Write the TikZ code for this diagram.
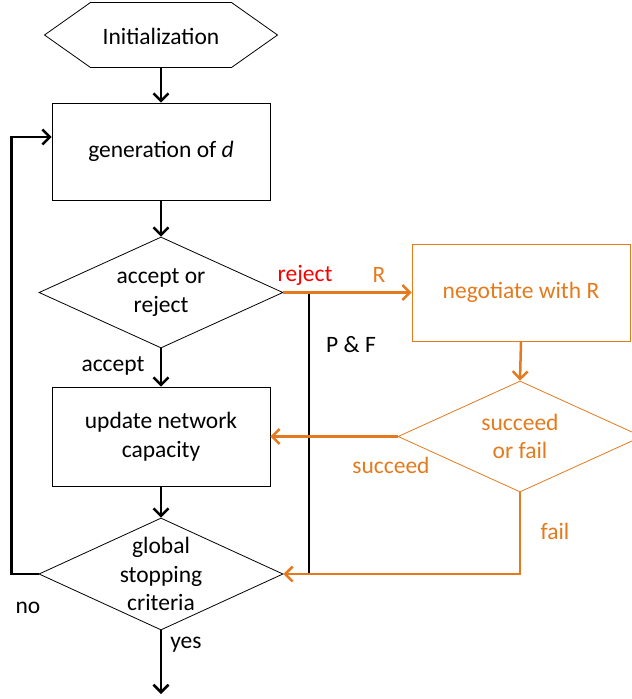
\documentclass[tikz,border=0pt]{standalone}
\usepackage{fontspec}
\setmainfont{Carlito}
\usetikzlibrary{shapes.geometric, arrows.meta, positioning}
\definecolor{negorange}{RGB}{228,122,30}
\definecolor{rejred}{RGB}{250,0,0}

\begin{document}
\begin{tikzpicture}[x=1pt, y=-1pt, font=\fontsize{23.5}{28.5}\selectfont]
  \newcommand\colx{161}
  \newcommand\thinw{0.8pt}
  \newcommand\flowlw{2.5pt}

  \tikzset{stepbox/.style={draw, line width=\thinw, minimum width=218pt, minimum height=97pt, inner sep=0pt, align=center}}
  \tikzset{choice/.style={draw, diamond, line width=\thinw, minimum width=244pt, minimum height=111pt, inner sep=0pt, aspect=2.2, align=center}}
  \tikzset{flow/.style={-{Straight Barb[length=7.5pt, width=15pt]}, line width=\flowlw}}
  \tikzset{negstyle/.style={draw=negorange, text=negorange}}

  \useasboundingbox (0,0) rectangle (632,699);
  \clip (0,0) rectangle (632,699);

  % main column
  \node (init) at (\colx,36) {Initialization};
  \draw[line width=\thinw] (\colx,35) ++(-116.5,0) -- ++(46,-32.5) -- ++(141,0) -- ++(46,32.5)
    -- ++(-46,32.5) -- ++(-141,0) -- cycle;
  \coordinate (initbot) at (\colx,67.5);
  \node[stepbox] at (\colx,151.5) (gen) {generation of \textit{d}};
  \node[choice] at (\colx,292.5) (accept) {accept or\\reject};
  \node[stepbox, minimum height=99pt] at (\colx,436.5) (update) {update network\\capacity};
  \node[choice, minimum width=242pt, minimum height=112pt] at (\colx,574) (global) {global\\stopping\\criteria};
  \coordinate (stop) at (\colx,694);

  % negotiation branch
  \node[stepbox, negstyle] at (521,292.5) (neg) {negotiate with R};
  \node[choice, negstyle] at (520,436.5) (sf) {succeed\\or fail};

  % connectors
  \draw[flow] (initbot) -- (gen.north);
  \draw[flow] (gen.south) -- (accept.north);
  \draw[flow] (accept.south) -- (update.north);
  \draw[flow] (update.south) -- (global.north);
  \draw[flow] (global.south) -- (stop);
  \draw[flow] (global.west) -| ([xshift=-40pt, yshift=14.5pt]gen.west) -- ([yshift=14.5pt]gen.west);

  \coordinate (pf) at (309,292.5);
  \draw[line width=\flowlw] (pf) -- (pf |- global.east);

  \draw[flow, negorange] (accept.east) -- (neg.west |- accept.east);
  \draw[flow, negorange] (neg.south) -- (sf.north);
  \draw[flow, negorange] (sf.west) -- (update.east |- sf.west);
  \draw[flow, negorange] (sf.south) |- (global.east);

  % labels
  \node[text=rejred] at (305,275) (lblreject) {reject};
  \node[text=negorange] at (379,275) (lblr) {R};
  \node at (351,345) (lblpf) {P \& F};
  \node at (113,366) (lblaccept) {accept};
  \node[text=negorange] at (391,465) (lblsucceed) {succeed};
  \node[text=negorange] at (555,531) (lblfail) {fail};
  \node at (28,608) (lblno) {no};
  \node at (186,645) (lblyes) {yes};
\end{tikzpicture}
\end{document}
